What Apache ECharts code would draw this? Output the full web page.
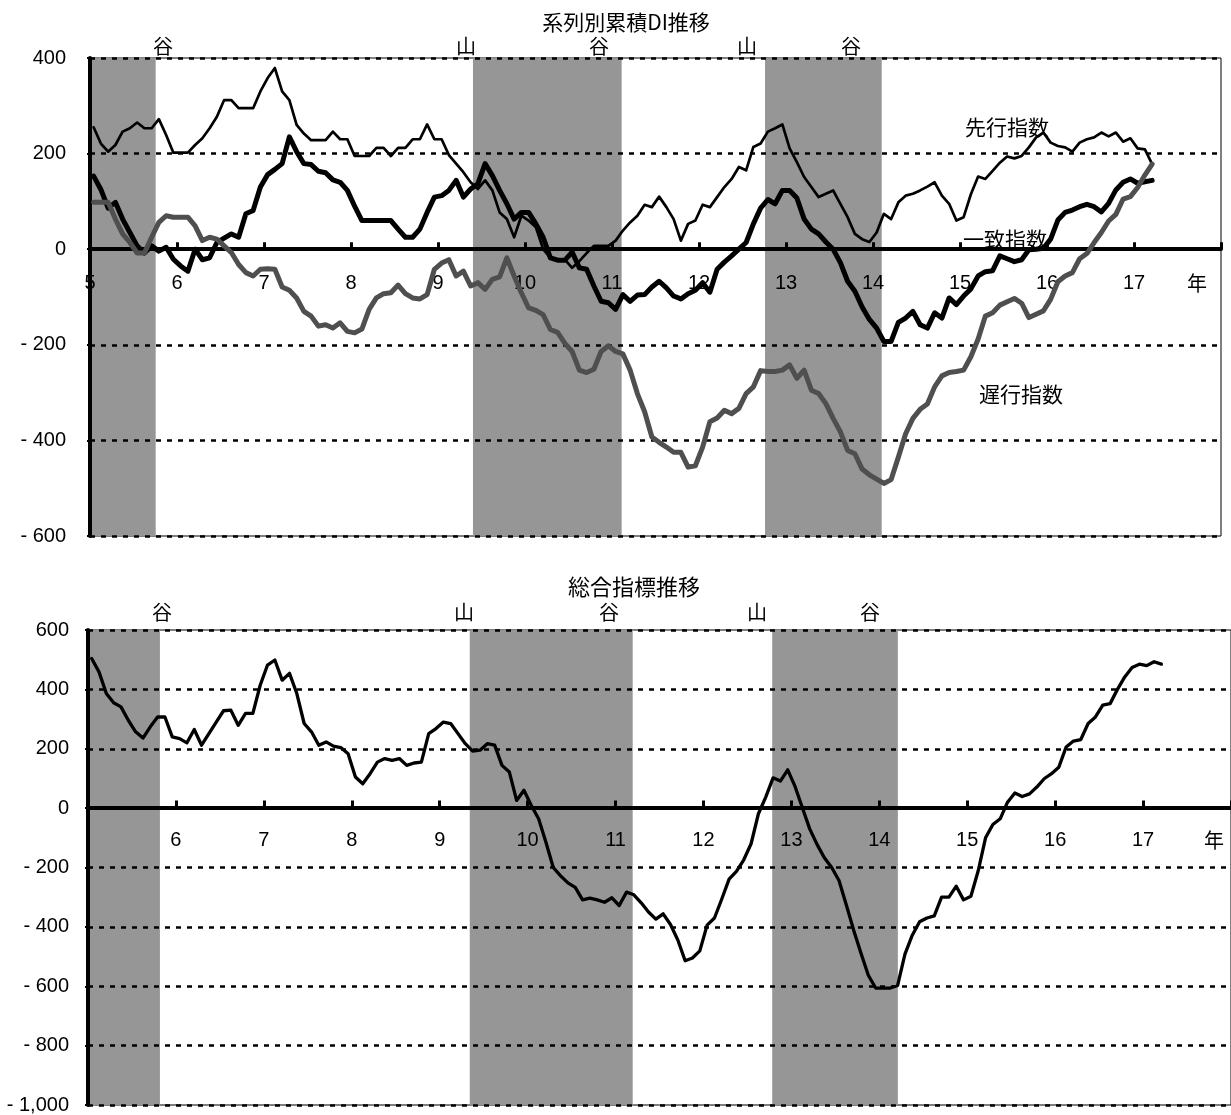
<!DOCTYPE html>
<html>
<head>
<meta charset="utf-8">
<script src="https://cdn.jsdelivr.net/npm/echarts@6/dist/echarts.min.js"></script>
<style>
  html, body { margin: 0; padding: 0; background: #fff; }
  #chart { width: 1231px; height: 1115px; }
</style>
</head>
<body>
<div id="chart"></div>
<script>
// Monthly series starting January of Heisei 5; one value per month.
const firstYear = 5;

// 系列別累積DI: 先行指数
const leading = [
  255, 221, 204, 218, 246, 253, 265, 253, 253, 272, 239, 202,
  202, 202, 218, 232, 253, 277, 312, 312, 295, 295, 295, 330,
  358, 379, 330, 312, 260, 242, 228, 228, 228, 246, 230, 230,
  195, 195, 195, 212, 212, 195, 212, 212, 230, 230, 261, 230,
  230, 197, 179, 161, 140, 126, 144, 123, 77, 63, 25, 70,
  60, 46, 0, -18, -21, -22, -39, -25, -8, 7, 7, 7,
  18, 39, 56, 70, 93, 88, 110, 88, 63, 18, 53, 60,
  93, 88, 109, 130, 147, 172, 165, 214, 221, 246, 253, 261,
  211, 182, 151, 130, 109, 116, 123, 95, 67, 32, 21, 15,
  35, 74, 63, 98, 112, 116, 123, 131, 140, 112, 95, 60,
  67, 115, 152, 147, 164, 181, 194, 190, 195, 213, 234, 244,
  223, 216, 213, 204, 223, 230, 234, 244, 236, 244, 225, 232,
  211, 209, 178
];

// 系列別累積DI: 一致指数
const coincident = [
  153, 125, 86, 98, 63, 35, 7, -8, 7, -4, 4, -21,
  -35, -46, 0, -22, -18, 14, 23, 32, 25, 74, 81, 130,
  156, 167, 179, 235, 204, 179, 177, 163, 160, 145, 140, 123,
  90, 60, 60, 60, 60, 60, 42, 25, 25, 42, 77, 109,
  112, 123, 144, 109, 126, 137, 179, 154, 123, 95, 63, 77,
  77, 53, 25, -18, -23, -23, -6, -39, -42, -77, -109, -112,
  -126, -95, -109, -96, -95, -79, -67, -81, -98, -104, -93, -86,
  -70, -90, -42, -27, -14, 0, 14, 53, 86, 104, 95, 123,
  123, 107, 63, 42, 32, 15, 0, -28, -67, -88, -121, -147,
  -165, -193, -193, -153, -144, -130, -158, -165, -133, -144, -102, -116,
  -98, -83, -56, -47, -45, -14, -20, -26, -22, -1, 0, 2,
  21, 61, 77, 82, 89, 94, 89, 78, 96, 124, 140, 147,
  138, 141, 144
];

// 系列別累積DI: 遅行指数
const lagging = [
  98, 98, 98, 63, 32, 14, -8, -8, 25, 56, 70, 67,
  67, 67, 49, 18, 25, 21, 7, -7, -32, -49, -56, -42,
  -41, -42, -79, -86, -102, -130, -140, -161, -158, -165, -154, -172,
  -175, -167, -126, -102, -93, -91, -75, -93, -102, -104, -95, -42,
  -29, -22, -56, -46, -77, -70, -84, -63, -58, -18, -56, -91,
  -123, -128, -137, -168, -174, -197, -214, -253, -258, -251, -214, -202,
  -214, -219, -253, -302, -340, -393, -404, -414, -425, -425, -456, -453,
  -414, -361, -353, -337, -344, -333, -302, -288, -254, -256, -256, -253,
  -242, -270, -253, -295, -302, -323, -354, -382, -421, -428, -460, -472,
  -481, -490, -482, -435, -386, -354, -335, -324, -288, -265, -258, -256,
  -253, -225, -188, -140, -133, -117, -110, -103, -113, -143, -136, -129,
  -105, -68, -56, -49, -20, -9, 14, 35, 59, 73, 105, 110,
  129, 155, 178
];

// 総合指標
const composite = [
  504, 459, 386, 355, 341, 296, 257, 236, 274, 307, 307, 240,
  234, 220, 265, 212, 251, 290, 328, 330, 279, 319, 319, 414,
  482, 499, 431, 454, 386, 285, 257, 212, 223, 209, 204, 183,
  105, 82, 116, 155, 167, 161, 167, 144, 152, 155, 251, 268,
  290, 285, 251, 217, 192, 195, 217, 212, 144, 122, 26, 60,
  9, -36, -115, -200, -228, -252, -267, -309, -303, -309, -317, -302,
  -328, -283, -292, -319, -350, -374, -356, -392, -444, -514, -505, -481,
  -394, -370, -306, -239, -213, -174, -120, -19, 37, 102, 91, 129,
  73, 1, -70, -122, -167, -200, -244, -326, -411, -489, -563, -606,
  -606, -606, -597, -492, -428, -383, -370, -363, -300, -300, -263, -309,
  -297, -211, -100, -55, -36, 20, 51, 39, 48, 71, 99, 116,
  138, 206, 226, 231, 285, 307, 347, 352, 400, 442, 474, 485,
  480, 493, 485
];

// Recession periods (peak to trough), in years on the axis scale
const diBands = [[5, 5.755], [9.402, 11.111], [12.759, 14.10]];
const ciBands = [[5, 5.818], [9.342, 11.195], [12.782, 14.211]];

// Axis ranges
const yearMin = 5, yearMax = 18;
const diRange = [-600, 400];
const ciRange = [-1000, 600];

const NUM_FONT = '"Liberation Sans", Arial, sans-serif';
const CJK_FONT = '"Noto Sans CJK JP", "Noto Sans CJK SC", sans-serif';

// Plot rectangles of the two panels
const gridTop = { left: 90, top: 58, width: 1131, height: 478 };
const gridBottom = { left: 88, top: 630, width: 1145, height: 476 };

const toPoints = arr => arr.map((v, i) => [firstYear + (i + 0.5) / 12, v]);

const fmtY = v => {
  const s = Math.abs(v).toLocaleString('en-US');
  return v < 0 ? '- ' + s : s;
};

// The year axis runs along the zero line; shift it up from the plot's bottom edge
const zeroOffset = (grid, range) => -grid.height * (0 - range[0]) / (range[1] - range[0]);

function xAxisFor(gridIndex, grid, range, nenPad, showFirst, margin) {
  return {
    gridIndex,
    type: 'value',
    position: 'bottom',
    offset: zeroOffset(grid, range),
    min: yearMin,
    max: yearMax,
    interval: 1,
    z: 1,
    axisLine: { onZero: false, lineStyle: { color: '#000', width: 4 } },
    axisTick: { inside: true, length: 7, lineStyle: { color: '#000', width: 3 } },
    splitLine: { show: false },
    axisLabel: {
      showMinLabel: true,
      showMaxLabel: true,
      margin,
      color: '#000',
      fontFamily: NUM_FONT,
      fontSize: 20,
      formatter: v => {
        if (v === yearMax) return '{n|年}';
        if (v === yearMin && !showFirst) return '';
        return String(v);
      },
      rich: {
        n: { fontFamily: CJK_FONT, fontSize: 20, color: '#000', padding: [0, nenPad, 0, 0] }
      }
    }
  };
}

function yAxisFor(gridIndex, range, margin) {
  return {
    gridIndex,
    type: 'value',
    min: range[0],
    max: range[1],
    interval: 200,
    z: 1,
    axisLine: { show: true, onZero: false, lineStyle: { color: '#000', width: 4 } },
    axisTick: { show: true, length: 3, lineStyle: { color: '#000', width: 2 } },
    axisLabel: {
      margin,
      color: '#000',
      fontFamily: NUM_FONT,
      fontSize: 20,
      formatter: fmtY
    },
    splitLine: {
      show: true,
      lineStyle: { color: '#000', width: 2.5, type: [5, 6] }
    }
  };
}

function bandSeries(bands, axisIndex) {
  return {
    type: 'custom',
    xAxisIndex: axisIndex,
    yAxisIndex: axisIndex,
    z: 0,
    silent: true,
    data: bands,
    encode: { x: [0, 1] },
    renderItem: (params, api) => {
      const a = api.coord([api.value(0), 0]);
      const b = api.coord([api.value(1), 0]);
      const cs = params.coordSys;
      return {
        type: 'rect',
        shape: { x: a[0], y: cs.y, width: b[0] - a[0], height: cs.height },
        style: { fill: '#969696' }
      };
    }
  };
}

function lineSeries(name, arr, axisIndex, color, width, z) {
  return {
    name,
    type: 'line',
    xAxisIndex: axisIndex,
    yAxisIndex: axisIndex,
    data: toPoints(arr),
    symbol: 'none',
    showSymbol: false,
    silent: true,
    z,
    lineStyle: { color, width, join: 'round', cap: 'round' }
  };
}

function label(text, x, y, size) {
  return {
    type: 'text',
    x, y, z: 100,
    style: {
      text,
      fill: '#000',
      fontSize: size,
      fontFamily: CJK_FONT,
      font: size + 'px ' + CJK_FONT,
      textAlign: 'center',
      textVerticalAlign: 'middle',
      align: 'center',
      verticalAlign: 'middle'
    }
  };
}

const chart = echarts.init(document.getElementById('chart'), null, { renderer: 'canvas' });

chart.setOption({
  animation: false,
  backgroundColor: '#fff',
  grid: [
    Object.assign({ show: true, borderColor: '#000', borderWidth: 1, backgroundColor: 'transparent' }, gridTop),
    Object.assign({ show: true, borderColor: '#000', borderWidth: 1, backgroundColor: 'transparent' }, gridBottom)
  ],
  xAxis: [
    xAxisFor(0, gridTop, diRange, 48, true, 24),
    xAxisFor(1, gridBottom, ciRange, 34, false, 23)
  ],
  yAxis: [yAxisFor(0, diRange, 24), yAxisFor(1, ciRange, 19)],
  series: [
    bandSeries(diBands, 0),
    lineSeries('先行指数', leading, 0, '#000', 2.7, 3),
    lineSeries('一致指数', coincident, 0, '#000', 5, 4),
    lineSeries('遅行指数', lagging, 0, '#4f4f4f', 5, 5),
    bandSeries(ciBands, 1),
    lineSeries('総合指標', composite, 1, '#000', 3.3, 3)
  ],
  graphic: [
    label('系列別累積DI推移', 626, 22, 21),
    label('谷', 163, 46, 20),
    label('山', 466, 46, 20),
    label('谷', 599, 46, 20),
    label('山', 747, 46, 20),
    label('谷', 851, 46, 20),
    label('先行指数', 1007, 127, 21),
    label('一致指数', 1005, 239, 21),
    label('遅行指数', 1021, 394, 21),
    label('総合指標推移', 634, 587, 22),
    label('谷', 162, 612, 20),
    label('山', 464, 612, 20),
    label('谷', 609, 612, 20),
    label('山', 757, 612, 20),
    label('谷', 870, 612, 20)
  ]
});
</script>
</body>
</html>
